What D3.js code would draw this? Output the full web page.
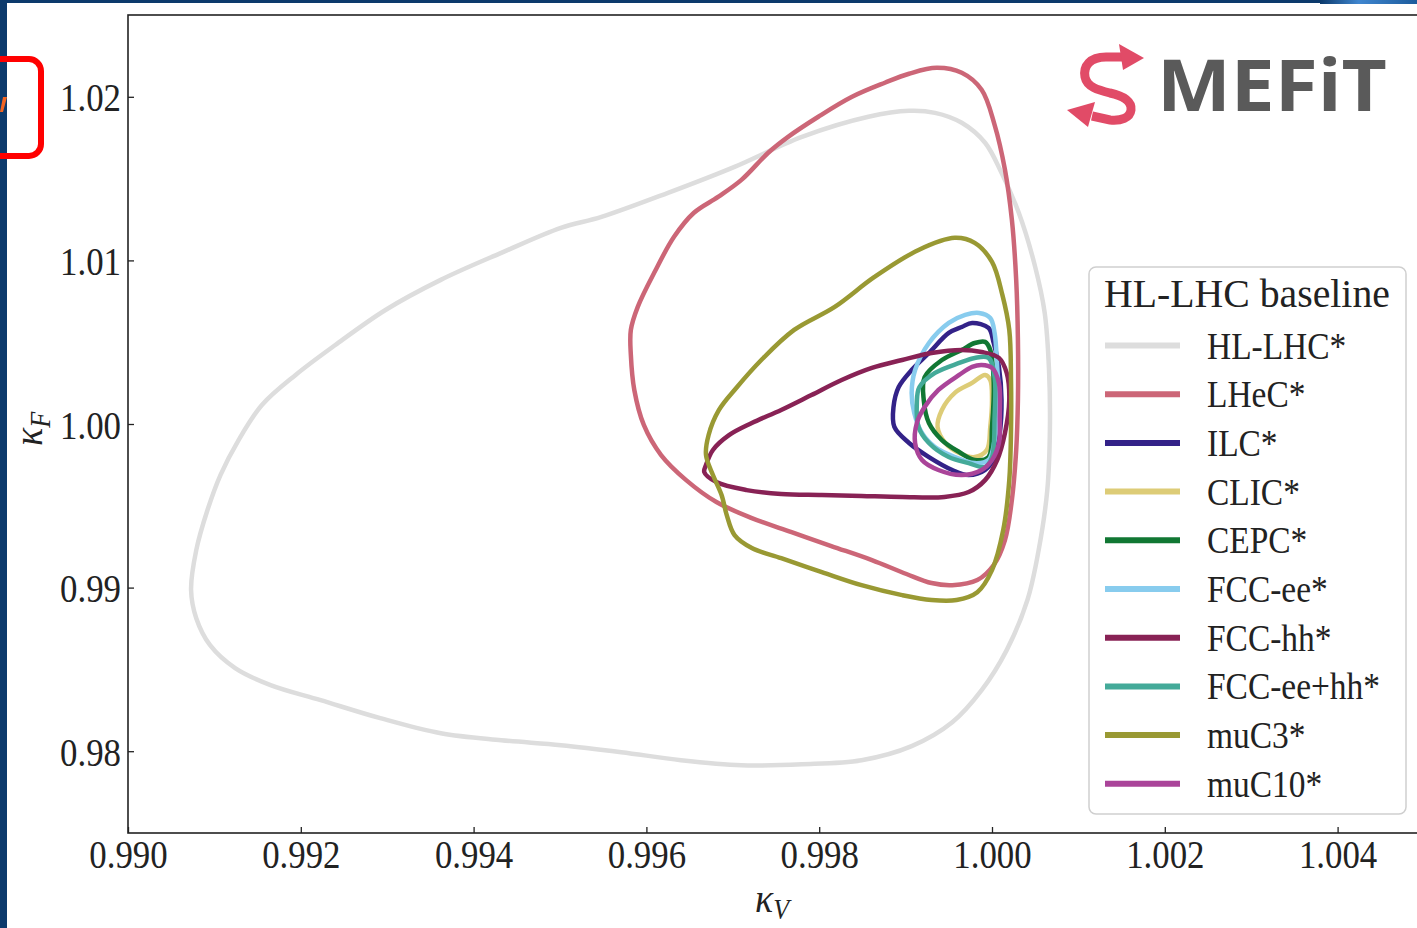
<!DOCTYPE html>
<html>
<head>
<meta charset="utf-8">
<script src="https://cdn.jsdelivr.net/npm/d3@7"></script>
<style>
  html, body { margin: 0; padding: 0; background: #fff; }
  svg { display: block; }
</style>
</head>
<body>
<svg width="1417" height="928"></svg>
<script>
// Ticks
const xTicks = [0.990, 0.992, 0.994, 0.996, 0.998, 1.000, 1.002, 1.004];
const yTicks = [0.98, 0.99, 1.00, 1.01, 1.02];

// Legend
const legendTitle = "HL-LHC baseline";
const names = ["HL-LHC*", "LHeC*", "ILC*", "CLIC*", "CEPC*", "FCC-ee*", "FCC-hh*", "FCC-ee+hh*", "muC3*", "muC10*"];
const colors = ["#dddddd", "#cc6677", "#332288", "#ddcc77", "#117733", "#88ccee", "#882255", "#44aa99", "#999933", "#aa4499"];

// 68% CL contours, [kappa_V, kappa_F]
const hlLhc = [[0.99073,0.98985],[0.99079,0.99229],[0.99092,0.99474],[0.99107,0.99688],[0.99128,0.99902],[0.99155,1.00116],[0.99194,1.00300],[0.99240,1.00483],[0.99298,1.00697],[0.99362,1.00881],[0.99432,1.01046],[0.99501,1.01199],[0.99548,1.01266],[0.99625,1.01413],[0.99702,1.01572],[0.99780,1.01755],[0.99857,1.01878],[0.99904,1.01914],[0.99934,1.01902],[0.99965,1.01841],[0.99992,1.01719],[1.00011,1.01535],[1.00031,1.01291],[1.00050,1.00960],[1.00061,1.00679],[1.00066,1.00330],[1.00067,0.99963],[1.00064,0.99596],[1.00054,0.99229],[1.00041,0.98924],[1.00017,0.98618],[0.99988,0.98373],[0.99954,0.98177],[0.99907,0.98031],[0.99849,0.97945],[0.99780,0.97920],[0.99710,0.97914],[0.99640,0.97945],[0.99571,0.97994],[0.99501,0.98037],[0.99432,0.98067],[0.99362,0.98110],[0.99292,0.98202],[0.99223,0.98312],[0.99165,0.98404],[0.99124,0.98508],[0.99095,0.98648],[0.99079,0.98813]];
const lhec = [[0.99582,1.00575],[0.99590,1.00716],[0.99609,1.00924],[0.99632,1.01144],[0.99655,1.01291],[0.99683,1.01388],[0.99710,1.01492],[0.99741,1.01658],[0.99764,1.01755],[0.99799,1.01878],[0.99838,1.02000],[0.99876,1.02086],[0.99904,1.02141],[0.99936,1.02177],[0.99965,1.02147],[0.99988,1.02043],[1.00003,1.01829],[1.00015,1.01554],[1.00023,1.01248],[1.00028,1.00881],[1.00030,1.00514],[1.00030,1.00147],[1.00028,0.99841],[1.00023,0.99535],[1.00015,0.99291],[1.00002,0.99138],[0.99983,0.99046],[0.99954,0.99015],[0.99930,0.99028],[0.99901,0.99083],[0.99861,0.99168],[0.99814,0.99254],[0.99768,0.99339],[0.99722,0.99425],[0.99681,0.99523],[0.99646,0.99657],[0.99617,0.99810],[0.99597,0.99994],[0.99586,1.00208],[0.99582,1.00422]];
const ilc = [[0.99977,1.00618],[0.99996,1.00587],[1.00002,1.00495],[1.00008,1.00349],[1.00011,1.00147],[1.00009,0.99945],[1.00003,0.99798],[0.99992,0.99719],[0.99973,0.99688],[0.99954,0.99719],[0.99927,0.99798],[0.99904,0.99884],[0.99887,0.99982],[0.99886,1.00104],[0.99892,1.00226],[0.99907,1.00330],[0.99927,1.00434],[0.99950,1.00557],[0.99965,1.00593]];
const clic = [[0.99992,1.00300],[0.99998,1.00269],[1.00000,1.00147],[0.99998,0.99982],[0.99994,0.99841],[0.99980,0.99798],[0.99962,0.99823],[0.99946,0.99884],[0.99937,0.99982],[0.99942,1.00086],[0.99957,1.00190],[0.99977,1.00251]];
const cepc = [[0.99992,1.00502],[0.99998,1.00453],[1.00002,1.00251],[1.00000,0.99982],[0.99996,0.99798],[0.99980,0.99780],[0.99962,0.99829],[0.99942,0.99902],[0.99927,1.00006],[0.99921,1.00147],[0.99922,1.00287],[0.99942,1.00391],[0.99965,1.00453],[0.99980,1.00495]];
const fccee = [[0.99985,1.00679],[0.99998,1.00648],[1.00003,1.00557],[1.00006,1.00349],[1.00008,1.00147],[1.00003,0.99902],[0.99996,0.99780],[0.99980,0.99761],[0.99957,0.99798],[0.99934,0.99859],[0.99919,0.99945],[0.99910,1.00067],[0.99907,1.00190],[0.99911,1.00330],[0.99927,1.00495],[0.99950,1.00618],[0.99969,1.00667]];
const fcchh = [[0.99669,0.99749],[0.99677,0.99841],[0.99696,0.99933],[0.99722,1.00006],[0.99756,1.00086],[0.99791,1.00177],[0.99826,1.00269],[0.99861,1.00343],[0.99896,1.00391],[0.99930,1.00434],[0.99965,1.00453],[0.99988,1.00440],[1.00008,1.00404],[1.00017,1.00312],[1.00020,1.00147],[1.00015,0.99945],[1.00006,0.99780],[0.99992,0.99657],[0.99973,0.99584],[0.99945,0.99554],[0.99896,0.99554],[0.99849,0.99560],[0.99803,0.99566],[0.99756,0.99572],[0.99716,0.99596],[0.99681,0.99645],[0.99667,0.99706]];
const fcceehh = [[0.99996,1.00404],[1.00003,1.00287],[1.00003,1.00043],[1.00000,0.99798],[0.99992,0.99737],[0.99973,0.99761],[0.99950,0.99798],[0.99927,0.99884],[0.99915,0.99982],[0.99913,1.00128],[0.99916,1.00226],[0.99934,1.00312],[0.99962,1.00373],[0.99980,1.00404]];
const muc3 = [[0.99771,1.00575],[0.99818,1.00716],[0.99864,1.00899],[0.99915,1.01064],[0.99957,1.01138],[0.99980,1.01107],[1.00000,1.00991],[1.00012,1.00789],[1.00020,1.00575],[1.00022,1.00269],[1.00022,0.99963],[1.00020,0.99657],[1.00013,0.99352],[1.00000,0.99107],[0.99983,0.98972],[0.99959,0.98924],[0.99930,0.98924],[0.99896,0.98954],[0.99849,0.99015],[0.99803,0.99095],[0.99756,0.99180],[0.99722,0.99242],[0.99702,0.99321],[0.99693,0.99443],[0.99687,0.99566],[0.99677,0.99688],[0.99669,0.99810],[0.99672,0.99933],[0.99684,1.00086],[0.99704,1.00220],[0.99733,1.00391]];
const muc10 = [[0.99988,1.00361],[1.00000,1.00343],[1.00008,1.00251],[1.00009,1.00043],[1.00008,0.99884],[1.00000,0.99780],[0.99988,0.99719],[0.99965,0.99688],[0.99938,0.99719],[0.99919,0.99780],[0.99911,0.99884],[0.99913,1.00006],[0.99922,1.00104],[0.99938,1.00208],[0.99962,1.00300],[0.99977,1.00349]];

const contours = [hlLhc, lhec, ilc, clic, cepc, fccee, fcchh, fcceehh, muc3, muc10];
const series = names.map((n, i) => ({name: n, color: colors[i], pts: contours[i]}));

// The svg
const svg = d3.select("svg"),
    width = +svg.attr("width"),
    height = +svg.attr("height");

const serif = "'Liberation Serif', 'DejaVu Serif', serif";
const ink = "#222";

svg.append("rect").attr("width", width).attr("height", height).attr("fill", "#fff");

const x = d3.scaleLinear().domain([0.990, 1.005]).range([128, 1424]);
const y = d3.scaleLinear().domain([0.975, 1.025]).range([833, 15]);

// contours
const line = d3.line()
    .x(d => x(d[0]))
    .y(d => y(d[1]))
    .curve(d3.curveCatmullRomClosed.alpha(0.5));

svg.append("g")
  .selectAll("path")
  .data(series)
  .join("path")
    .attr("d", d => line(d.pts))
    .attr("fill", "none")
    .attr("stroke", d => d.color)
    .attr("stroke-width", 4.5)
    .attr("stroke-linejoin", "round");

// axes
const xAxis = svg.append("g")
    .attr("transform", `translate(0,${y.range()[0]})`)
    .call(d3.axisBottom(x).tickValues(xTicks).tickFormat(d3.format(".3f")).tickSizeInner(-6).tickSizeOuter(0));
const yAxis = svg.append("g")
    .attr("transform", `translate(${x.range()[0]},0)`)
    .call(d3.axisLeft(y).tickValues(yTicks).tickFormat(d3.format(".2f")).tickSizeInner(-6).tickSizeOuter(0));

[xAxis, yAxis].forEach(g => {
  g.select(".domain").remove();
  g.selectAll(".tick line").attr("stroke", ink).attr("stroke-width", 1.3);
  g.selectAll("text").attr("fill", ink).style("font-family", serif).style("font-size", "40px")
    .attr("x", null).attr("y", null).attr("dy", null);
});
xAxis.selectAll("text").attr("text-anchor", "middle").attr("transform", "translate(0,35) scale(0.87,1)");
yAxis.selectAll("text").attr("text-anchor", "end").attr("transform", "translate(-7,14) scale(0.87,1)");

// frame
svg.append("rect")
    .attr("x", x.range()[0]).attr("y", y.range()[1])
    .attr("width", x.range()[1] - x.range()[0]).attr("height", y.range()[0] - y.range()[1])
    .attr("fill", "none").attr("stroke", ink).attr("stroke-width", 1.6);

// axis labels
const xl = svg.append("text")
    .attr("transform", "translate(755,912) scale(0.9,1)")
    .style("font-family", serif).style("font-style", "italic").style("font-size", "42px").attr("fill", ink);
xl.append("tspan").text("κ");
xl.append("tspan").text("V").style("font-size", "29px").attr("dy", 7);

const yl = svg.append("text")
    .attr("transform", "translate(42,446) rotate(-90) scale(0.9,1)")
    .style("font-family", serif).style("font-style", "italic").style("font-size", "42px").attr("fill", ink);
yl.append("tspan").text("κ");
yl.append("tspan").text("F").style("font-size", "29px").attr("dy", 8);

// legend
const leg = svg.append("g");
leg.append("rect")
    .attr("x", 1089).attr("y", 267).attr("width", 317).attr("height", 547).attr("rx", 7)
    .attr("fill", "#fff").attr("fill-opacity", 0.8).attr("stroke", "#cfcfcf").attr("stroke-width", 1.5);
leg.append("text")
    .attr("transform", "translate(1104,307) scale(0.97,1)")
    .style("font-family", serif).style("font-size", "41px").attr("fill", ink)
    .text(legendTitle);
const rows = leg.selectAll("g.row")
  .data(series)
  .join("g")
    .attr("class", "row")
    .attr("transform", (d, i) => `translate(0,${345.5 + i * 48.7})`);
rows.append("line")
    .attr("x1", 1105).attr("x2", 1180)
    .attr("stroke", d => d.color).attr("stroke-width", 6);
rows.append("text")
    .attr("transform", "translate(1207,13) scale(0.88,1)")
    .style("font-family", serif).style("font-size", "38px").attr("fill", ink)
    .text(d => d.name);

// SMEFiT logo
const logo = svg.append("g");
logo.append("path")
    .attr("d", "M1123,57 L1106,57 C1090,57 1083,66 1085,77 C1087,87 1098,90 1110,93 C1124,96 1132,102 1131,110 C1130,118 1121,121 1110,120 L1092,116")
    .attr("fill", "none").attr("stroke", "#e14b67").attr("stroke-width", 9).attr("stroke-linecap", "butt");
logo.append("path").attr("d", "M1144,58 L1119,44 L1123,70 Z").attr("fill", "#e14b67");
logo.append("path").attr("d", "M1067,110 L1095,102 L1088,127 Z").attr("fill", "#e14b67");
logo.append("text")
    .attr("x", 1157).attr("y", 111)
    .attr("textLength", 230).attr("lengthAdjust", "spacingAndGlyphs")
    .style("font-family", "'Open Sans', sans-serif").style("font-weight", 700).style("font-size", "72px")
    .attr("fill", "#5a5a5a")
    .text("MEFiT");

// slide decorations
const defs = svg.append("defs");
const grad = defs.append("linearGradient").attr("id", "tg");
grad.append("stop").attr("offset", "0").attr("stop-color", "#0c3a6c");
grad.append("stop").attr("offset", "0.4").attr("stop-color", "#3f86cf");
grad.append("stop").attr("offset", "1").attr("stop-color", "#1c5b9c");
svg.append("rect").attr("x", 0).attr("y", 0).attr("width", width).attr("height", 3).attr("fill", "#0c3a6c");
svg.append("rect").attr("x", 1320).attr("y", 0).attr("width", 97).attr("height", 4).attr("fill", "url(#tg)");
svg.append("rect").attr("x", 0).attr("y", 0).attr("width", 7).attr("height", height).attr("fill", "#0c3a6c");
svg.append("path").attr("d", "M0,112 L3,112 L7,97 L3,97 Z").attr("fill", "#f26522");
svg.append("rect")
    .attr("x", -40).attr("y", 59).attr("width", 81).attr("height", 97).attr("rx", 12)
    .attr("fill", "none").attr("stroke", "#ff0000").attr("stroke-width", 6);
</script>
</body>
</html>
